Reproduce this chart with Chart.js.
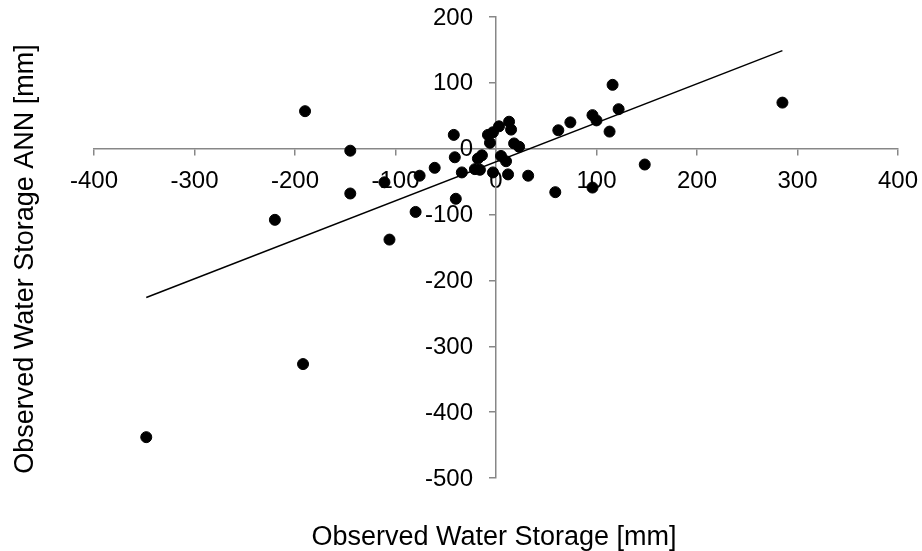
<!DOCTYPE html>
<html>
<head>
<meta charset="utf-8">
<script src="https://cdn.jsdelivr.net/npm/chart.js@4.4.0/dist/chart.umd.min.js"></script>
<style>
  html, body { margin: 0; padding: 0; background: #fff; }
  #wrap { width: 922px; height: 551px; }
</style>
</head>
<body>
<div id="wrap"><canvas id="chart" width="922" height="551"></canvas></div>
<script>
// observed vs ANN water storage
var observed = [-348, -192, -190, -220, -145, -145, -111, -106, -80, -76,
                -61, -42, -41, -40, -34, -21, -16, -18, -14, -8,
                -3, -6, -3, 3, 5, 10, 13, 15, 12, 18,
                23, 32, 59, 62, 74, 96, 100, 96, 113, 116,
                122, 148, 285];
var annValues = [-438, -327, 57, -108, -3, -68, -51, -138, -96, -41,
                 -29, 21, -13, -76, -36, -31, -32, -15, -10, 21,
                 25, 9, -36, 34, -11, -19, 41, 29, -39, 8,
                 3, -41, -66, 28, 40, 51, 43, -59, 26, 97,
                 60, -24, 70];
// linear trend line end points
var trendX = [-348, 285];
var trendY = [-226, 149];

var xTicks = [-400, -300, -200, -100, 0, 100, 200, 300, 400];
var yTicks = [-500, -400, -300, -200, -100, 0, 100, 200];

var fontFamily = '"Liberation Sans", Arial, sans-serif';
var axisGray = '#878787';

var points = observed.map(function (x, i) { return { x: x, y: annValues[i] }; });
var trend = trendX.map(function (x, i) { return { x: x, y: trendY[i] }; });

function noOverflow(s) {
    s.paddingTop = 0; s.paddingBottom = 0;
    s.paddingLeft = 0; s.paddingRight = 0;
}

// y tick labels (chart.js puts them right on the axis when it is moved to x=0)
var yLabels = {
    id: 'yLabels',
    beforeDatasetsDraw: function (chart) {
        var ctx = chart.ctx;
        var xs = chart.scales.x, ys = chart.scales.y;
        var x0 = xs.getPixelForValue(0);
        ctx.save();
        ctx.fillStyle = '#000';
        ctx.font = '24px ' + fontFamily;
        ctx.textAlign = 'right';
        ctx.textBaseline = 'middle';
        yTicks.forEach(function (v) {
            ctx.fillText(String(v), x0 - 23, ys.getPixelForValue(v) + 1);
        });
        ctx.restore();
    },
    afterDraw: function (chart) {
        var ctx = chart.ctx;
        ctx.save();
        ctx.fillStyle = '#000';
        ctx.font = '27px ' + fontFamily;
        ctx.textAlign = 'center';
        ctx.textBaseline = 'alphabetic';
        ctx.fillText('Observed Water Storage [mm]', 494, 545);
        ctx.translate(33, 259);
        ctx.rotate(-Math.PI / 2);
        ctx.fillText('Observed Water Storage ANN [mm]', 0, 0);
        ctx.restore();
    }
};

var ctx = document.getElementById('chart').getContext('2d');
new Chart(ctx, {
    type: 'scatter',
    data: {
        datasets: [{
            data: points,
            backgroundColor: '#000',
            borderColor: '#000',
            pointRadius: 5.5,
            pointHoverRadius: 5.5
        }, {
            type: 'line',
            data: trend,
            borderColor: '#000',
            borderWidth: 1.5,
            pointRadius: 0,
            fill: false
        }]
    },
    options: {
        responsive: false,
        animation: false,
        layout: { padding: { left: 94, right: 24, top: 17, bottom: 73 } },
        plugins: { legend: { display: false }, tooltip: { enabled: false } },
        scales: {
            x: {
                type: 'linear',
                min: -400, max: 400,
                position: { y: 0 },
                afterFit: function (s) { s.height = 0; noOverflow(s); },
                afterBuildTicks: function (s) { s.ticks = xTicks.map(function (v) { return { value: v }; }); },
                grid: { display: true, drawOnChartArea: false, drawTicks: true, tickLength: 6, color: axisGray, lineWidth: 1.5 },
                border: { color: axisGray, width: 1.5 },
                ticks: { color: '#000', padding: 12, maxRotation: 0, font: { family: fontFamily, size: 24 } }
            },
            y: {
                type: 'linear',
                min: -500, max: 200,
                position: { x: 0 },
                afterFit: function (s) { s.width = 0; noOverflow(s); },
                afterBuildTicks: function (s) { s.ticks = yTicks.map(function (v) { return { value: v }; }); },
                grid: { display: true, drawOnChartArea: false, drawTicks: true, tickLength: 6, color: axisGray, lineWidth: 1.5 },
                border: { color: axisGray, width: 1.5 },
                ticks: { display: false }
            }
        }
    },
    plugins: [yLabels]
});
</script>
</body>
</html>
